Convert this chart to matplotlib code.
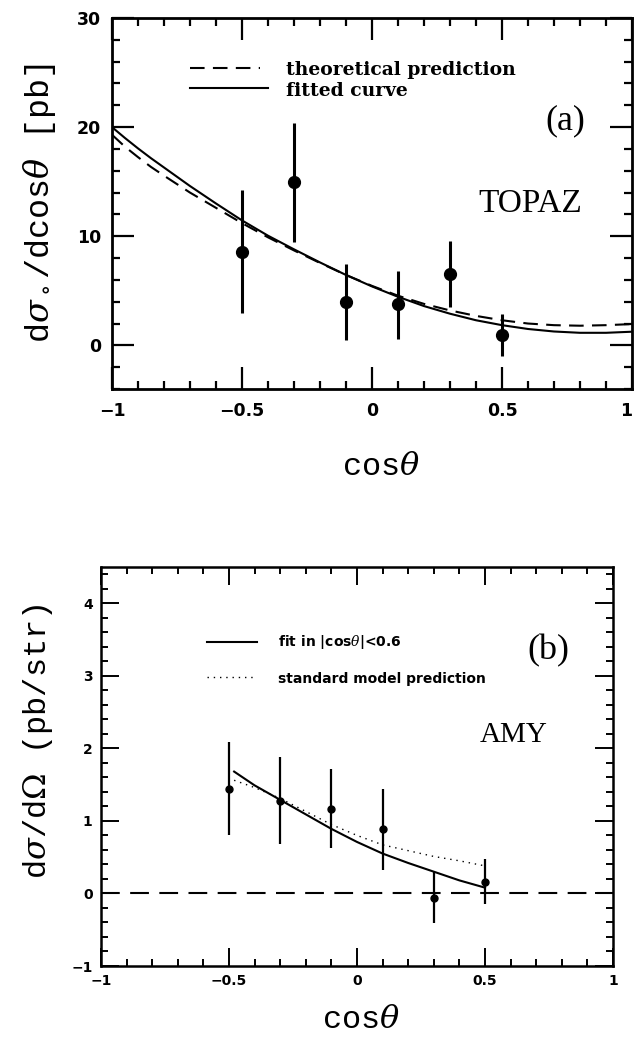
import matplotlib
matplotlib.use("Agg")
import matplotlib.pyplot as plt
from matplotlib.ticker import MultipleLocator, FixedLocator

plt.rcParams['mathtext.fontset'] = 'dejavuserif'

# ---------------- data: panel (a) TOPAZ ----------------
a_x = [-0.5, -0.3, -0.1, 0.1, 0.3, 0.5]
a_y = [8.6, 15.0, 4.0, 3.8, 6.5, 0.95]
a_lo = [5.6, 5.5, 3.5, 3.25, 3.0, 1.9]
a_hi = [5.6, 5.4, 3.5, 3.05, 3.1, 1.95]

a_curve_x = [-1.0, -0.95, -0.9, -0.85, -0.8, -0.7, -0.6, -0.5, -0.4, -0.3, -0.2, -0.1, 0.0,
             0.1, 0.2, 0.3, 0.4, 0.5, 0.6, 0.7, 0.8, 0.9, 1.0]
a_fit = [20.0, 19.0, 18.05, 17.15, 16.3, 14.6, 13.0, 11.45, 10.05, 8.8, 7.6, 6.45, 5.4,
         4.45, 3.6, 2.9, 2.3, 1.85, 1.5, 1.27, 1.15, 1.15, 1.25]
a_theory = [19.3, 18.2, 17.25, 16.35, 15.55, 14.0, 12.6, 11.2, 9.9, 8.7, 7.55, 6.45, 5.45,
            4.55, 3.8, 3.2, 2.7, 2.3, 2.0, 1.85, 1.8, 1.85, 1.95]

a_xticks = [-1, -0.5, 0, 0.5, 1]
a_xticklabels = ['\u22121', '\u22120.5', '0', '0.5', '1']
a_yticks = [0, 10, 20, 30]
a_yticklabels = ['0', '10', '20', '30']

# ---------------- data: panel (b) AMY ----------------
b_x = [-0.5, -0.3, -0.1, 0.1, 0.3, 0.5]
b_y = [1.44, 1.27, 1.17, 0.89, -0.06, 0.16]
b_lo = [0.64, 0.59, 0.54, 0.56, 0.35, 0.31]
b_hi = [0.65, 0.61, 0.54, 0.55, 0.36, 0.32]

b_curve_x = [-0.48, -0.4, -0.3, -0.2, -0.1, 0.0, 0.1, 0.2, 0.3, 0.4, 0.5]
b_fit = [1.68, 1.49, 1.29, 1.09, 0.89, 0.71, 0.55, 0.42, 0.30, 0.18, 0.08]
b_sm = [1.56, 1.46, 1.31, 1.13, 0.95, 0.80, 0.67, 0.59, 0.51, 0.45, 0.38]

b_xticks = [-1, -0.5, 0, 0.5, 1]
b_xticklabels = ['\u22121', '\u22120.5', '0', '0.5', '1']
b_yticks = [-1, 0, 1, 2, 3, 4]
b_yticklabels = ['\u22121', '0', '1', '2', '3', '4']

W, H = 636, 1047
fig = plt.figure(figsize=(W / 100, H / 100), dpi=100)

def fx(px):
    return px / W

def fy(py):
    return 1 - py / H

# ---------------- panel (a) ----------------
axa = fig.add_axes([fx(112), fy(389), fx(632) - fx(112), fy(18) - fy(389)])
axa.set_xlim(-1, 1)
axa.set_ylim(-4, 30)
axa.plot(a_curve_x, a_theory, color='black', lw=1.5, linestyle=(0, (7, 4)),
         label='theoretical prediction')
axa.plot(a_curve_x, a_fit, color='black', lw=1.5, label='fitted curve')
axa.errorbar(a_x, a_y, yerr=[a_lo, a_hi], fmt='o', color='black', ms=8.5,
             elinewidth=2.2, capsize=0)
for s in axa.spines.values():
    s.set_linewidth(2)
axa.xaxis.set_major_locator(FixedLocator(a_xticks))
axa.set_xticklabels(a_xticklabels)
axa.yaxis.set_major_locator(FixedLocator(a_yticks))
axa.set_yticklabels(a_yticklabels)
axa.xaxis.set_minor_locator(MultipleLocator(0.1))
axa.yaxis.set_minor_locator(MultipleLocator(2))
axa.tick_params(which='both', direction='in', top=True, right=True, width=1.6)
axa.tick_params(which='major', length=16)
axa.tick_params(which='minor', length=5.5)
axa.tick_params(axis='x', which='major', pad=9)
axa.tick_params(axis='y', which='major', pad=8)
for lab in axa.get_xticklabels() + axa.get_yticklabels():
    lab.set_fontsize(12.5)
    lab.set_fontweight('bold')
    lab.set_family('DejaVu Sans')
axa.get_xticklabels()[-1].set_horizontalalignment('right')

# legend (a) drawn manually
axa.plot([-0.7, -0.43], [25.4, 25.4], color='black',
         lw=1.5, linestyle=(0, (7, 4)))
axa.plot([-0.7, -0.4], [23.6, 23.6], color='black', lw=1.5)
axa.text(-0.33, 25.2, 'theoretical prediction', fontsize=13.5, fontweight='bold',
         family='DejaVu Serif', va='center', ha='left')
axa.text(-0.33, 23.3, 'fitted curve', fontsize=13.5, fontweight='bold',
         family='DejaVu Serif', va='center', ha='left')
axa.text(0.82, 20.6, '(a)', fontsize=26, family='Liberation Serif',
         ha='right', va='center')
axa.text(0.81, 13.0, 'TOPAZ', fontsize=24, family='Liberation Serif',
         ha='right', va='center')

fig.text(fx(40), fy(203), r'd$\sigma_\circ$/dcos$\theta$ [pb]', rotation=90,
         ha='center', va='center', fontsize=24, family='Liberation Mono')
fig.text(fx(381), fy(467), r'cos$\theta$', ha='center', va='center',
         fontsize=23, family='Liberation Mono')

# ---------------- panel (b) ----------------
axb = fig.add_axes([fx(101), fy(966), fx(613) - fx(101), fy(567) - fy(966)])
axb.set_xlim(-1, 1)
axb.set_ylim(-1, 4.5)
axb.axhline(0, color='black', lw=1.5, linestyle=(0, (9, 5)))
axb.plot(b_curve_x, b_fit, color='black', lw=1.5)
axb.plot(b_curve_x, b_sm, color='black', lw=1.0, linestyle=(0, (1, 3.5)))
axb.errorbar(b_x, b_y, yerr=[b_lo, b_hi], fmt='o', color='black', ms=5,
             elinewidth=1.6, capsize=0)
for s in axb.spines.values():
    s.set_linewidth(1.8)
axb.xaxis.set_major_locator(FixedLocator(b_xticks))
axb.set_xticklabels(b_xticklabels)
axb.yaxis.set_major_locator(FixedLocator(b_yticks))
axb.set_yticklabels(b_yticklabels)
axb.xaxis.set_minor_locator(MultipleLocator(0.1))
axb.yaxis.set_minor_locator(MultipleLocator(0.2))
axb.tick_params(which='both', direction='in', top=True, right=True, width=1.4)
axb.tick_params(which='major', length=13)
axb.tick_params(which='minor', length=5)
axb.tick_params(axis='x', which='major', pad=6)
axb.tick_params(axis='y', which='major', pad=6)
for lab in axb.get_xticklabels() + axb.get_yticklabels():
    lab.set_fontsize(10)
    lab.set_fontweight('bold')
    lab.set_family('DejaVu Sans')

axb.plot([-0.585, -0.39], [3.47, 3.47], color='black', lw=1.5)
axb.plot([-0.585, -0.39], [2.98, 2.98], color='black', lw=1.0,
         linestyle=(0, (1, 3.5)))
axb.text(-0.31, 3.47, r'fit in |cos$\theta$|<0.6', fontsize=10, fontweight='bold',
         family='DejaVu Sans', va='center', ha='left')
axb.text(-0.31, 2.96, 'standard model prediction', fontsize=10, fontweight='bold',
         family='DejaVu Sans', va='center', ha='left')
axb.text(0.83, 3.34, '(b)', fontsize=26, family='Liberation Serif',
         ha='right', va='center')
axb.text(0.745, 2.19, 'AMY', fontsize=21, family='Liberation Serif',
         ha='right', va='center')

fig.text(fx(38), fy(741), r'd$\sigma$/d$\Omega$ (pb/str)', rotation=90,
         ha='center', va='center', fontsize=23, family='Liberation Mono')
fig.text(fx(361), fy(1020), r'cos$\theta$', ha='center', va='center',
         fontsize=23, family='Liberation Mono')

fig.savefig('out.png', dpi=100, facecolor='white')
